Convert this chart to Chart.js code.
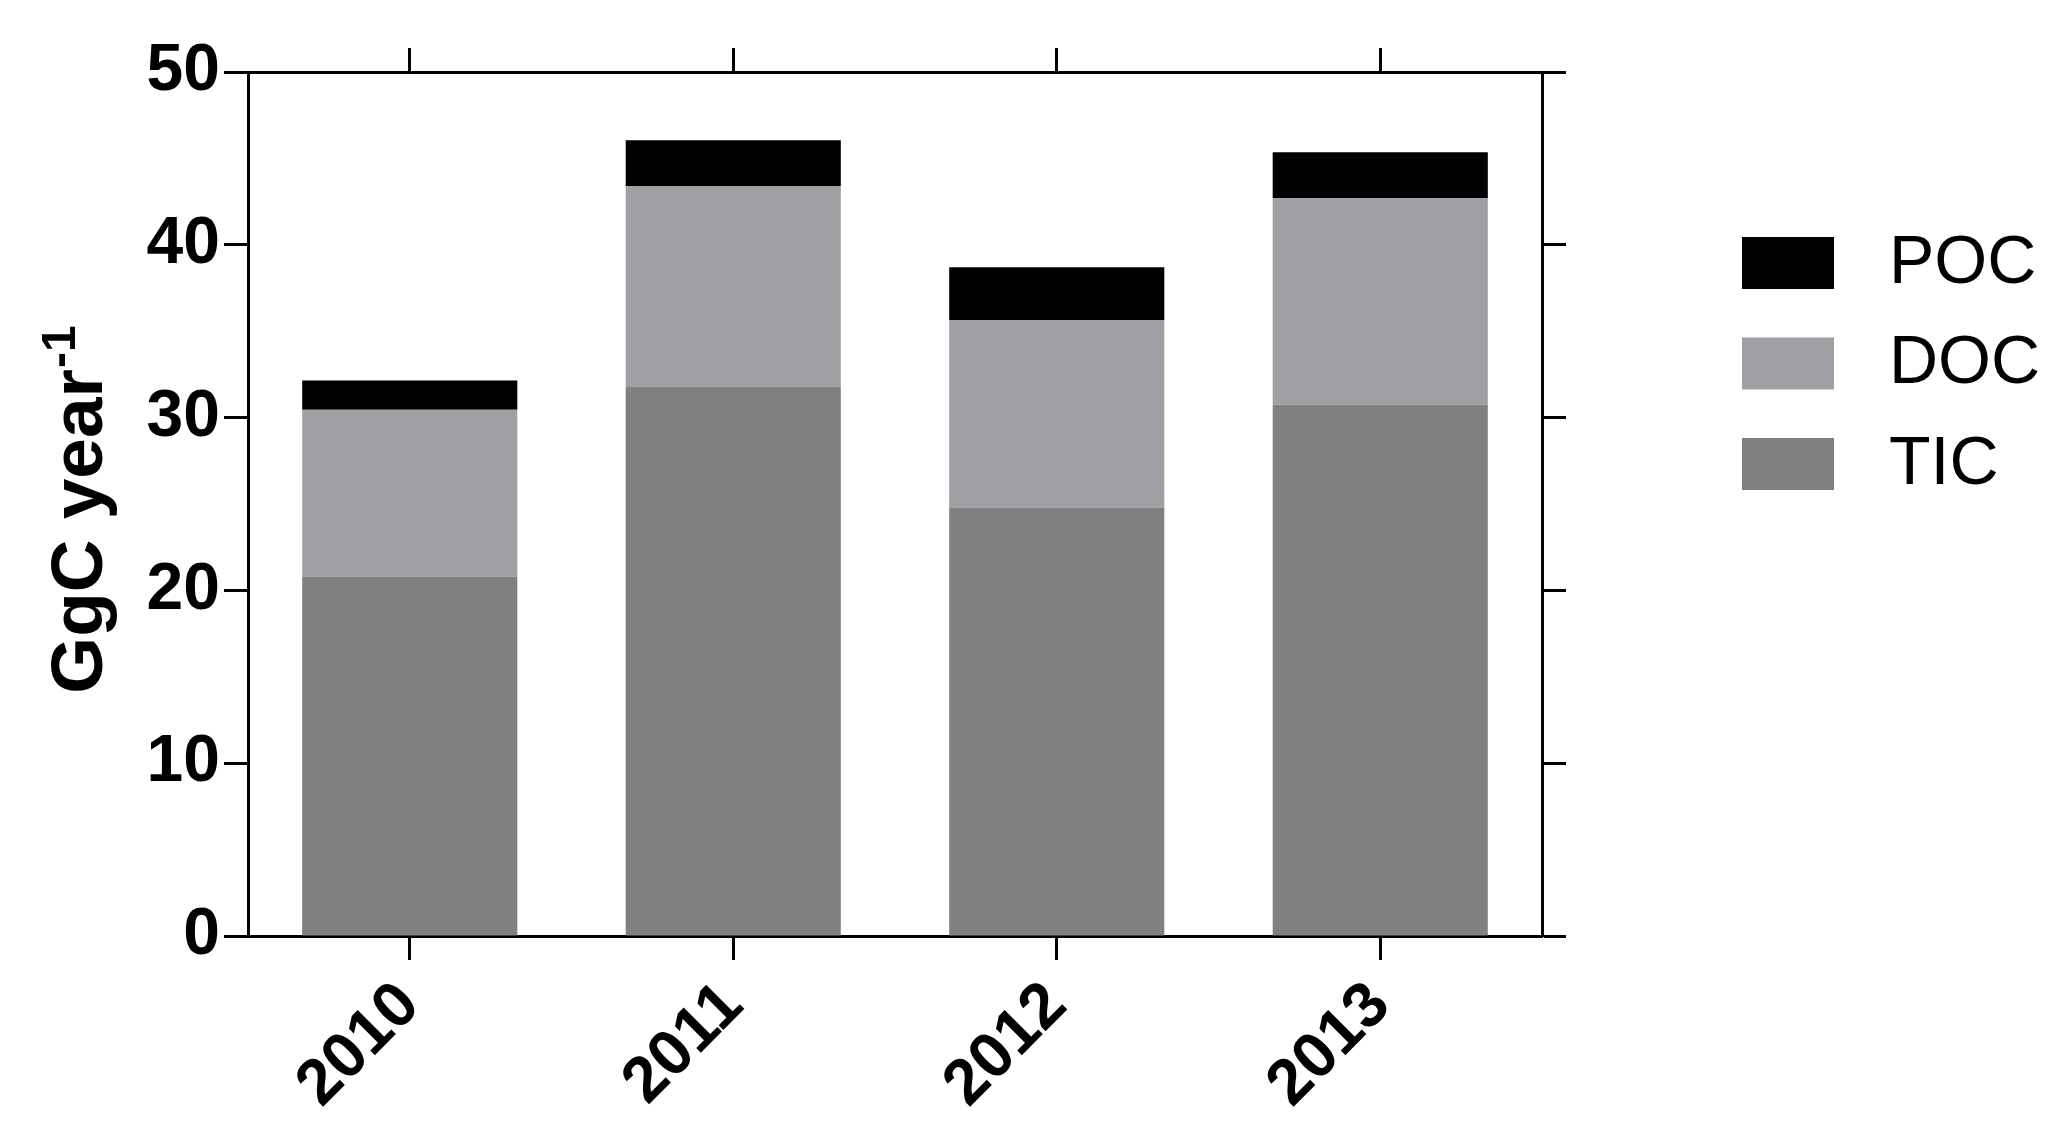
<!DOCTYPE html>
<html>
<head>
<meta charset="utf-8">
<script src="https://cdn.jsdelivr.net/npm/chart.js@4.4.1/dist/chart.umd.min.js"></script>
<style>
  html, body { margin: 0; padding: 0; background: #fff; }
</style>
</head>
<body>
<canvas id="chart" width="2067" height="1139"></canvas>
<script>
const years = ['2010', '2011', '2012', '2013'];
const ticValues = [20.8, 31.8, 24.8, 30.75];
const docValues = [9.65, 11.6, 10.85, 11.95];
const pocValues = [1.7, 2.65, 3.05, 2.65];
const yTicks = [0, 10, 20, 30, 40, 50];
const yTitle = 'GgC year';
const yTitleSup = '-1';

const FONT = '"Liberation Sans", Arial, Helvetica, sans-serif';
const LINE = 3;
const TICK = 24;

// y title with a raised "-1"
const yTitlePlugin = {
  id: 'yTitle',
  afterDraw(chart) {
    const ctx = chart.ctx;
    const cy = (chart.chartArea.top + chart.chartArea.bottom) / 2 + 6;
    ctx.save();
    ctx.translate(102, cy);
    ctx.rotate(-Math.PI / 2);
    ctx.fillStyle = '#000';
    ctx.textBaseline = 'alphabetic';
    ctx.textAlign = 'left';
    ctx.font = 'bold 73px ' + FONT;
    const mainW = ctx.measureText(yTitle).width;
    ctx.font = 'bold 48px ' + FONT;
    const supW = ctx.measureText(yTitleSup).width;
    const start = -(mainW + supW) / 2;
    ctx.font = 'bold 73px ' + FONT;
    ctx.fillText(yTitle, start, 0);
    ctx.font = 'bold 48px ' + FONT;
    ctx.fillText(yTitleSup, start + mainW + 1, -27);
    ctx.restore();
  },
};

// legend on the right, top series first
const legendPlugin = {
  id: 'sideLegend',
  afterDraw(chart) {
    const ctx = chart.ctx;
    const sets = chart.data.datasets.slice().reverse();
    ctx.save();
    ctx.font = '68px ' + FONT;
    ctx.textBaseline = 'middle';
    ctx.textAlign = 'left';
    sets.forEach((ds, i) => {
      const top = 237 + i * 100.5;
      ctx.fillStyle = ds.backgroundColor;
      ctx.fillRect(1742, top, 92, 52);
      ctx.fillStyle = '#000';
      ctx.fillText(ds.label, 1889, top + 27);
    });
    ctx.restore();
  },
};

function axisGrid() {
  return {
    drawOnChartArea: false,
    drawTicks: true,
    tickLength: TICK,
    tickWidth: LINE,
    tickColor: '#000',
    offset: false,
  };
}

const chart = new Chart(document.getElementById('chart').getContext('2d'), {
  type: 'bar',
  data: {
    labels: years,
    datasets: [
      { label: 'TIC', data: ticValues, backgroundColor: '#808080' },
      { label: 'DOC', data: docValues, backgroundColor: '#a09fa4' },
      { label: 'POC', data: pocValues, backgroundColor: '#000000' },
    ],
  },
  options: {
    responsive: false,
    devicePixelRatio: 1,
    animation: false,
    layout: { padding: 0 },
    datasets: {
      bar: { categoryPercentage: 1, barPercentage: 0.665, borderWidth: 0 },
    },
    plugins: {
      legend: { display: false },
      tooltip: { enabled: false },
    },
    scales: {
      x: {
        stacked: true,
        offset: true,
        position: 'bottom',
        grid: axisGrid(),
        border: { color: '#000', width: LINE },
        ticks: {
          autoSkip: false,
          minRotation: 45,
          maxRotation: 45,
          padding: 8,
          color: '#000',
          font: { family: FONT, size: 64, weight: 'bold' },
        },
        afterFit: (s) => { s.height = 1139 - 936; },
      },
      x2: {
        type: 'category',
        labels: years,
        offset: true,
        position: 'top',
        grid: axisGrid(),
        border: { color: '#000', width: LINE },
        ticks: { display: false },
        afterFit: (s) => { s.height = 72; },
      },
      y: {
        stacked: true,
        min: 0,
        max: 50,
        position: 'left',
        grid: axisGrid(),
        border: { color: '#000', width: LINE },
        afterBuildTicks: (s) => { s.ticks = yTicks.map((v) => ({ value: v })); },
        ticks: {
          padding: 4,
          color: '#000',
          font: { family: FONT, size: 66, weight: 'bold' },
        },
        afterFit: (s) => { s.width = 248; },
      },
      y2: {
        type: 'linear',
        min: 0,
        max: 50,
        position: 'right',
        grid: axisGrid(),
        border: { color: '#000', width: LINE },
        afterBuildTicks: (s) => { s.ticks = yTicks.map((v) => ({ value: v })); },
        ticks: { display: false },
        afterFit: (s) => { s.width = 2067 - 1542; },
      },
    },
  },
  plugins: [yTitlePlugin, legendPlugin],
});
</script>
</body>
</html>
